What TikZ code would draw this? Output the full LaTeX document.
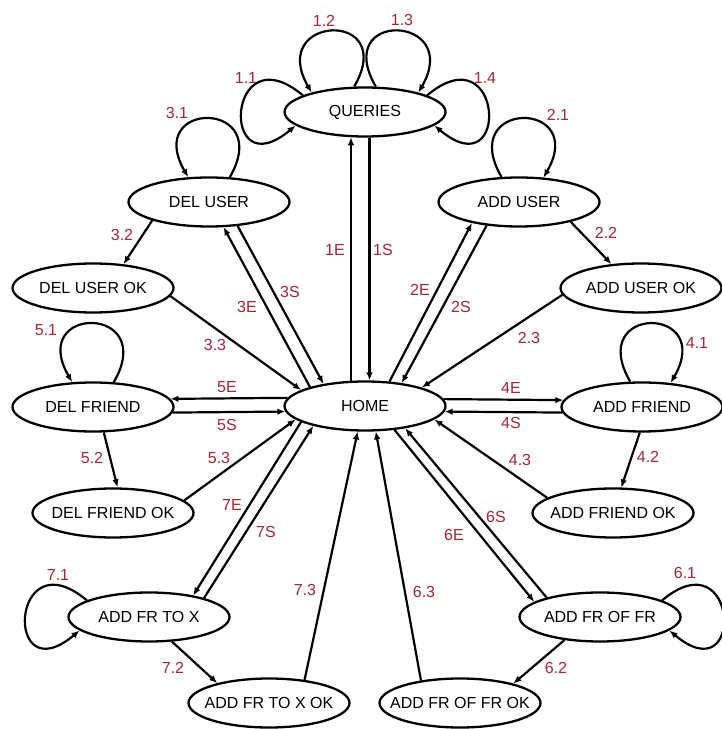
\documentclass[tikz,border=0pt]{standalone}
\usepackage{fontspec}
\setmainfont{Liberation Sans}
\usetikzlibrary{shapes.geometric,arrows.meta}
\definecolor{lblred}{RGB}{160,40,55}
\tikzset{
    state/.style={draw,ellipse,line width=2.3pt,minimum width=161pt,minimum height=49pt,
        inner xsep=-70pt,inner ysep=0pt,font=\fontsize{16}{19}\selectfont},
    lbl/.style={text=lblred,inner sep=0pt,font=\fontsize{16}{19}\selectfont},
    trans/.style={line width=2.2pt,-{Latex[length=8pt,width=6.5pt]}},
}
\begin{document}
\begin{tikzpicture}[x=1pt,y=1pt]
                \useasboundingbox (0,0) rectangle (722,729);
                %% states
                \node[state] (queries) at (365,617) {QUERIES};
                \node[state] (deluser) at (209,527) {DEL USER};
                \node[state] (adduser) at (519,527) {ADD USER};
                \node[state] (deluserok) at (93,441) {DEL USER OK};
                \node[state] (adduserok) at (641,441) {ADD USER OK};
                \node[state] (home) at (365,323) {HOME};
                \node[state] (delfriend) at (93,322) {DEL FRIEND};
                \node[state] (addfriend) at (642,322) {ADD FRIEND};
                \node[state] (delfriendok) at (113,216) {DEL FRIEND OK};
                \node[state] (addfriendok) at (613,216) {ADD FRIEND OK};
                \node[state] (addfrtox) at (149,112) {ADD FR TO X};
                \node[state] (addfroffr) at (600,112) {ADD FR OF FR};
                \node[state] (addfrtoxok) at (269,26) {ADD FR TO X OK};
                \node[state] (addfroffrok) at (460,26) {ADD FR OF FR OK};
                %% transitions
                \foreach \a/\b in {home.119/queries.241, queries.280/home.80,
                    home.45/adduser.204, adduser.216/home.32,
                    home.161/deluser.300, deluser.320/home.152,
                    home.5/addfriend.175, addfriend.184/home.-4,
                    home.174/delfriend.6, delfriend.356/home.184,
                    home.-39/addfroffr.167, addfroffr.160/home.-29,
                    home.194/addfrtox.26, addfrtox.19/home.201,
                    adduser.-21/adduserok.141, adduserok.185/home.18,
                    deluser.198/deluserok.38, deluserok.-6/home.166,
                    addfriend.-95/addfriendok.72, addfriendok.167/home.-11,
                    delfriend.-67/delfriendok.80, delfriendok.10/home.191,
                    addfroffr.213/addfroffrok.20, addfroffrok.150/home.-67,
                    addfrtox.-47/addfrtoxok.159, addfrtoxok.33/home.-106}
                    \draw[trans] (\a) -- (\b);
                %% self loops
                \foreach \a/\o/\i/\d/\b in {queries.165/140/220/100/queries.191,
                    queries.113/60/120/90/queries.160, queries.67/120/60/90/queries.20,
                    queries.15/40/-40/100/queries.-11,
                    deluser.50/60/120/90/deluser.130, adduser.125/120/60/90/adduser.45,
                    delfriend.50/60/120/90/delfriend.130, addfriend.115/120/60/90/addfriend.40,
                    addfrtox.165/140/220/100/addfrtox.191, addfroffr.15/40/-40/100/addfroffr.-11}
                    \draw[trans] (\a) to[out=\o,in=\i,distance=\d pt] (\b);
                %% labels
                \foreach \t/\x/\y [count=\n] in {1.1/246/651, 1.2/324/708, 1.3/402/709, 1.4/485/651,
                    3.1/177/616, 2.1/558/614, 3.2/122/494, 2.2/606/496,
                    1E/335/479, 1S/383/479, 3E/247/422, 3S/290/437, 2E/420/439, 2S/461/422,
                    3.3/215/384, 2.3/529/391, 5.1/46/399, 4.1/697/386,
                    5E/227/342, 5S/227/304, 4E/511/341, 4S/511/306,
                    5.2/92/271, 5.3/219/271, 4.3/520/269, 4.2/648/272,
                    7E/232/224, 7S/266/197, 6S/496/212, 6E/454/194,
                    7.1/58/154, 7.3/305/139, 7.2/173/61, 6.1/685/156, 6.3/424/137, 6.2/556/61}
                    \node[lbl] (lab\n) at (\x,\y) {\t};
            \end{tikzpicture}
\end{document}
